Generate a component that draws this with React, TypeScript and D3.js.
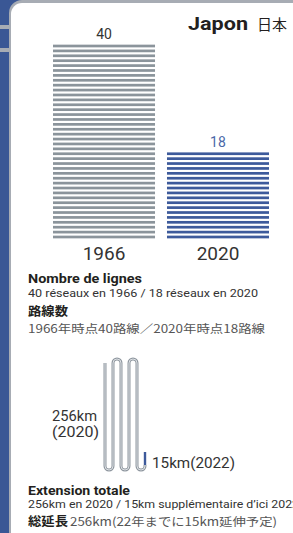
import React from "react";
import * as d3 from "d3";

const years = ["1966", "2020"];
const lineCounts = [40, 18];
const barColors = ["#8b949b", "#3d5a9b"];
const labelColors = ["#333333", "#4a68a8"];
const extensionKm = [256, 15];
const extensionYears = ["2020", "2022"];

const W = 293;
const H = 533;
const LATIN = "Roboto, 'Noto Sans', sans-serif";
const CJK = "'Noto Sans CJK JP', sans-serif";

export default function App() {
  const x = d3.scaleBand<string>().domain(years).range([53, 269]).paddingInner(0.105).paddingOuter(0);
  const maxLines = d3.max(lineCounts) as number;
  const y = d3.scaleLinear().domain([0, maxLines - 1]).range([237, 46]);

  // wire (extension) geometry
  const wx = [105, 113, 121, 129, 137, 145];
  const top = 363;
  const bot = 466;
  const r = 4;
  let d = `M${wx[0]},${top} L${wx[0]},${bot}`;
  for (let i = 1; i < wx.length; i++) {
    if (i % 2 === 1) {
      d += ` A${r},${r} 0 0 0 ${wx[i]},${bot}`;
      d += i === wx.length - 1 ? ` L${wx[i]},${bot - 1}` : ` L${wx[i]},${top}`;
    } else {
      d += ` A${r},${r} 0 0 1 ${wx[i]},${top} L${wx[i]},${bot}`;
    }
  }
  const kmScale = d3.scaleLinear().domain([0, extensionKm[1]]).range([0, 13]);
  const blueTop = bot - 1 - kmScale(extensionKm[1]);

  return (
    <svg width={W} height={H} style={{ position: "fixed", left: 0, top: 0, display: "block" }}>
      <rect x={0} y={0} width={W} height={H} fill="#ffffff" />
      {/* frame */}
      <rect x={0} y={0} width={10} height={H} fill="#3a5795" />
      <rect x={0} y={0} width={24} height={16} fill="#3a5795" />
      <rect x={0} y={25} width={10} height={4} fill="#a7acb4" />
      <rect x={0} y={48} width={10} height={4} fill="#a7acb4" />
      <rect x={9} y={0} width={400} height={700} rx={13} fill="#a7acb4" />
      <rect x={11} y={3} width={400} height={700} rx={11} fill="#ffffff" />

      {/* title */}
      <text x={188} y={30} fontFamily={LATIN} fontWeight={700} fontSize={19} fill="#231f20" textLength={60} lengthAdjust="spacingAndGlyphs">Japon</text>
      <text x={257} y={30} fontFamily={CJK} fontSize={14.5} fill="#231f20" textLength={30} lengthAdjust="spacingAndGlyphs">日本</text>

      {/* line-count bars */}
      {years.map((yr, k) => {
        const n = lineCounts[k];
        const bx = x(yr) as number;
        const bw = x.bandwidth();
        return (
          <g key={yr}>
            {d3.range(n).map((i) => (
              <rect key={i} x={bx} y={y(i) - 1.35} width={bw} height={2.7} fill={barColors[k]} />
            ))}
            <text x={bx + bw / 2} y={y(n - 1) - 7} textAnchor="middle" fontFamily={LATIN} fontSize={14} fill={labelColors[k]}>{n}</text>
            <text x={bx + bw / 2} y={260} textAnchor="middle" fontFamily={LATIN} fontSize={19} fill="#333333">{yr}</text>
          </g>
        );
      })}

      {/* caption 1 */}
      <text x={28} y={283} fontFamily={LATIN} fontWeight={700} fontSize={12.5} fill="#231f20" textLength={114} lengthAdjust="spacingAndGlyphs">Nombre de lignes</text>
      <text x={28} y={297} fontFamily={LATIN} fontSize={10.5} fill="#333333" textLength={230} lengthAdjust="spacingAndGlyphs">{`${lineCounts[0]} réseaux en ${years[0]} / ${lineCounts[1]} réseaux en ${years[1]}`}</text>
      <text x={28} y={316} fontFamily={CJK} fontWeight={700} fontSize={12.5} fill="#231f20" textLength={40} lengthAdjust="spacingAndGlyphs">路線数</text>
      <text x={28} y={333} fontFamily={CJK} fontSize={11.5} fill="#555555" textLength={237} lengthAdjust="spacingAndGlyphs">{`${years[0]}年時点${lineCounts[0]}路線／${years[1]}年時点${lineCounts[1]}路線`}</text>

      {/* extension wire */}
      <path d={d} fill="none" stroke="#8f979f" strokeWidth={3} strokeLinecap="butt" />
      <path d={d} fill="none" stroke="#dde1e5" strokeWidth={1} strokeLinecap="butt" />
      <line x1={145} x2={145} y1={bot - 1} y2={blueTop} stroke="#3d5a9b" strokeWidth={2.4} />
      <text x={52} y={421} fontFamily={LATIN} fontSize={14.5} fill="#333333" textLength={45} lengthAdjust="spacingAndGlyphs">{`${extensionKm[0]}km`}</text>
      <text x={52} y={437} fontFamily={LATIN} fontSize={14.5} fill="#333333" textLength={47} lengthAdjust="spacingAndGlyphs">{`(${extensionYears[0]})`}</text>
      <text x={152} y={468} fontFamily={LATIN} fontSize={14.5} fill="#333333" textLength={83} lengthAdjust="spacingAndGlyphs">{`${extensionKm[1]}km(${extensionYears[1]})`}</text>

      {/* caption 2 */}
      <text x={28} y={495} fontFamily={LATIN} fontWeight={700} fontSize={12.5} fill="#231f20" textLength={102} lengthAdjust="spacingAndGlyphs">Extension totale</text>
      <text x={28} y={508} fontFamily={LATIN} fontSize={10.5} fill="#333333" textLength={271} lengthAdjust="spacingAndGlyphs">{`${extensionKm[0]}km en ${extensionYears[0]} / ${extensionKm[1]}km supplémentaire d’ici ${extensionYears[1]}`}</text>
      <text x={28} y={526} fontFamily={CJK} fontWeight={700} fontSize={12.5} fill="#231f20" textLength={40} lengthAdjust="spacingAndGlyphs">総延長</text>
      <text x={70} y={526} fontFamily={CJK} fontSize={11.5} fill="#555555" textLength={207} lengthAdjust="spacingAndGlyphs">{`${extensionKm[0]}km(22年までに${extensionKm[1]}km延伸予定)`}</text>
    </svg>
  );
}
